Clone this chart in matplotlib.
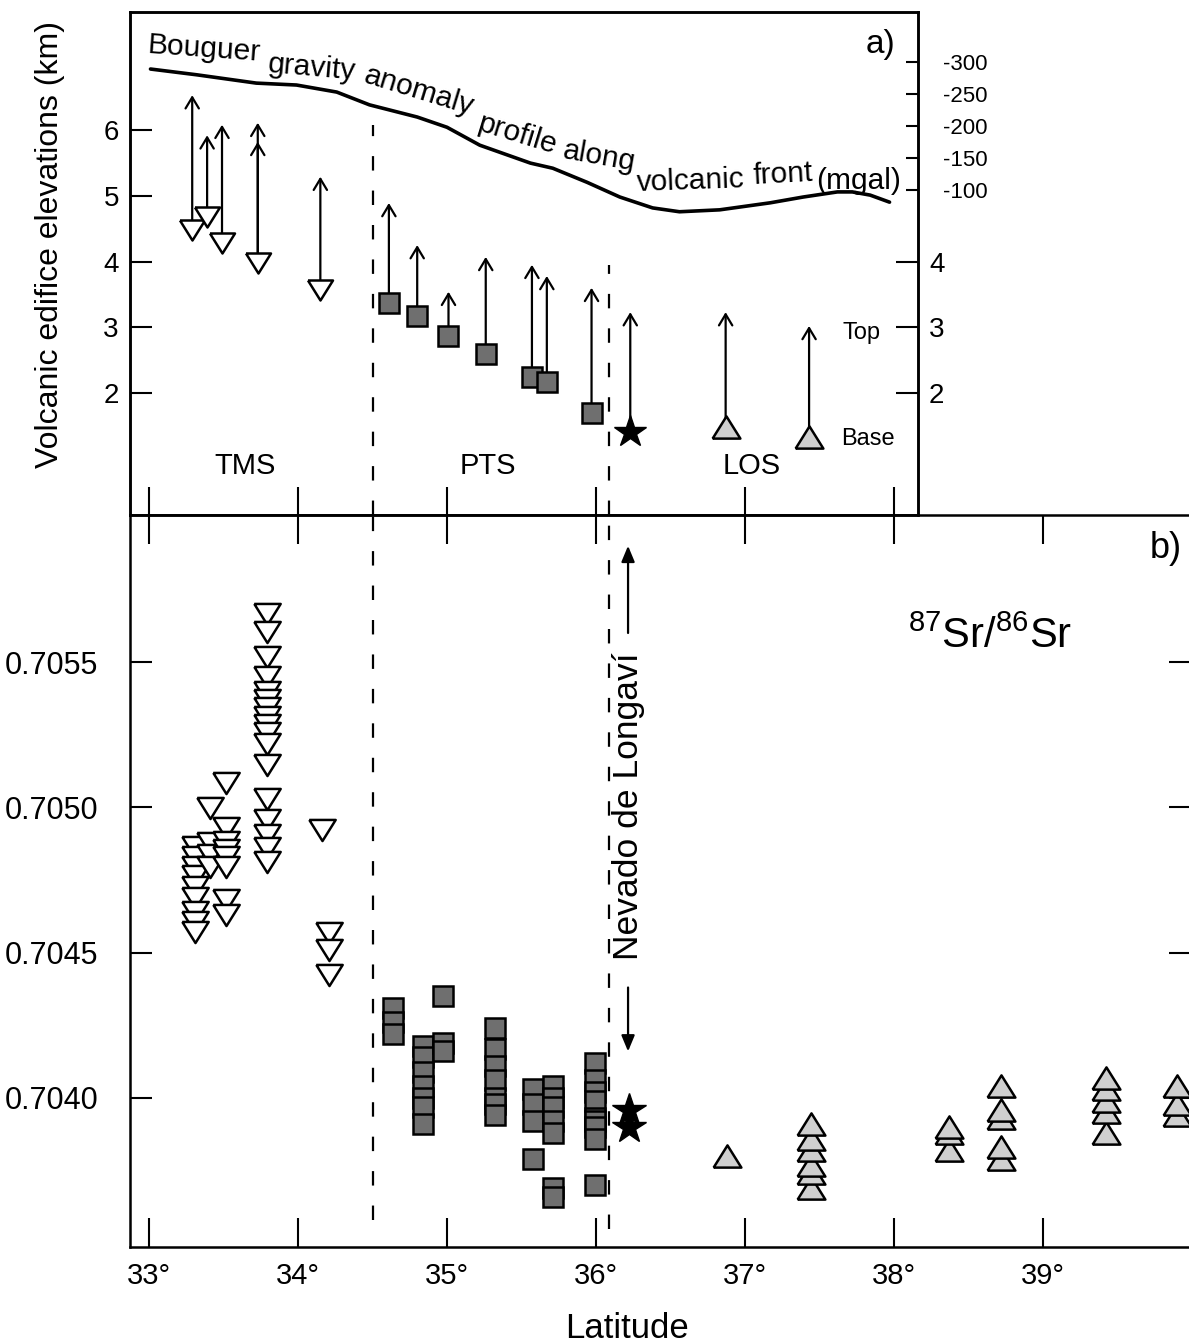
import matplotlib
matplotlib.use("Agg")
import matplotlib.pyplot as plt
from matplotlib.ticker import FormatStrFormatter

plt.rcParams['font.family'] = ['Liberation Sans', 'DejaVu Sans']
plt.rcParams['mathtext.fontset'] = 'custom'
plt.rcParams['mathtext.rm'] = 'Liberation Sans'
plt.rcParams['axes.unicode_minus'] = False

# ---- panel a: edifice base / top elevations (km) ----
tms_lat = [33.29, 33.39, 33.49, 33.73, 34.15]
tms_base = [4.48, 4.68, 4.28, 3.98, 3.57]
tms_top = [6.53, 5.92, 6.08, 6.11, 5.29]
tms_second_head = [(33.73, 5.82)]

pts_lat = [34.61, 34.80, 35.01, 35.26, 35.57, 35.67, 35.97]
pts_base = [3.37, 3.17, 2.87, 2.59, 2.24, 2.17, 1.70]
pts_top = [4.89, 4.25, 3.54, 4.07, 3.95, 3.78, 3.60]

nl_lat = [36.23]
nl_base = [1.41]
nl_top = [3.23]

los_lat = [36.87, 37.43]
los_base = [1.48, 1.33]
los_top = [3.23, 3.02]

# Bouguer gravity anomaly along the volcanic front (mgal)
grav_lat = [33.01, 33.32, 33.72, 33.99, 34.26, 34.48, 34.80, 35.00, 35.22, 35.56,
            35.71, 35.94, 36.16, 36.38, 36.56, 36.83, 37.17, 37.39, 37.62, 37.72,
            37.84, 37.97]
grav_mgal = [-289, -280, -267, -264, -253, -233, -214, -198, -170, -142,
             -134, -112, -89, -72, -66, -69, -80, -89, -97, -97,
             -92, -81]

# segment boundaries (dashed lines)
boundary_lat = [34.5, 36.09]
boundary_top_km = [6.08, 3.95]
boundary_low_sr = [0.70358, 0.70355]

# ---- panel b: 87Sr/86Sr ----
tms_sr = {
    33.31: [0.704863, 0.704829, 0.704795, 0.704764, 0.704726, 0.704688, 0.704640, 0.704605, 0.704571],
    33.41: [0.704998, 0.704877, 0.704836, 0.704795],
    33.52: [0.705084, 0.704929, 0.704881, 0.704853, 0.704829, 0.704795, 0.704681, 0.704629],
    33.79: [0.705665, 0.705603, 0.705517, 0.705448, 0.705397, 0.705369, 0.705342, 0.705311,
            0.705283, 0.705256, 0.705218, 0.705146, 0.705029, 0.704956, 0.704905, 0.704860, 0.704812],
    34.16: [0.704922],
    34.21: [0.704567, 0.704509, 0.704423],
}
pts_sr = {
    34.64: [0.70431, 0.70426, 0.70422],
    34.84: [0.70418, 0.70414, 0.70409, 0.70404, 0.70400, 0.70397, 0.70391],
    34.97: [0.70435, 0.70419, 0.70416],
    35.32: [0.70424, 0.70417, 0.70411, 0.70406, 0.70400, 0.70398, 0.70394],
    35.58: [0.70403, 0.70398, 0.70392, 0.70379],
    35.71: [0.70404, 0.70400, 0.70397, 0.70392, 0.70388, 0.70369, 0.70366],
    35.99: [0.70412, 0.70406, 0.70402, 0.70399, 0.70393, 0.70392, 0.70390, 0.70386, 0.70370],
}
nl_sr = {36.22: [0.70396, 0.70390]}
los_sr = {
    36.88: [0.70380],
    37.44: [0.70369, 0.70374, 0.70377, 0.70382, 0.70386, 0.70391],
    38.37: [0.70382, 0.70388, 0.70390],
    38.72: [0.70379, 0.70383, 0.70393, 0.70396, 0.70404],
    39.42: [0.70388, 0.70395, 0.70399, 0.70403, 0.70407],
    39.90: [0.70394, 0.70398, 0.70404],
}

lat_ticks = [33, 34, 35, 36, 37, 38, 39]
lat_labels = ['33°', '34°', '35°', '36°', '37°', '38°', '39°']
km_ticks = [2, 3, 4, 5, 6]
km_ticks_right = [2, 3, 4]
mgal_ticks = [-300, -250, -200, -150, -100]
sr_ticks = [0.7040, 0.7045, 0.7050, 0.7055]

gravity_words = [
    ('Bouguer', 32.987, 7.17, -4),
    ('gravity', 33.792, 6.88, -5),
    ('anomaly', 34.436, 6.72, -17),
    ('profile', 35.195, 6.00, -17),
    ('along', 35.772, 5.58, -10),
    ('volcanic', 36.275, 5.08, 2),
    ('front', 37.060, 5.18, 3),
    ('(mgal)', 37.480, 5.10, 0),
]

# ---------------------------------------------------------------
W, H = 1189, 1344
fig = plt.figure(figsize=(W / 100, H / 100), dpi=100)
ax = fig.add_axes([130 / W, 1 - 515 / H, (918 - 130) / W, (515 - 12) / H])
axb = fig.add_axes([130 / W, 1 - 1247 / H, (1191 - 130) / W, (1247 - 515) / H])

down_tri = [(-1, 0.8), (1, 0.8), (0, -0.8), (-1, 0.8)]
up_tri = [(-1, -0.8), (1, -0.8), (0, 0.8), (-1, -0.8)]
sq_color = '#6f6f6f'
los_color = '#cfcfcf'


def arrow(a, x, y0, y1, style='->,head_length=0.5,head_width=0.3'):
    a.annotate('', xy=(x, y1), xytext=(x, y0),
               arrowprops=dict(arrowstyle=style, lw=1.6, color='black',
                               shrinkA=0, shrinkB=0, mutation_scale=16))


# ---- panel a ----
ax2 = ax.twinx()
ax2.plot(grav_lat, grav_mgal, color='black', lw=2.6, solid_capstyle='round')
ax2.set_ylim(407.8, -378.1)
ax2.set_yticks(mgal_ticks)
ax2.tick_params(axis='y', direction='in', length=9, width=1.5, labelsize=16, pad=18)
for s in ax2.spines.values():
    s.set_linewidth(1.8)

for x, b, t in zip(tms_lat, tms_base, tms_top):
    arrow(ax, x, b, t)
for x, t in tms_second_head:
    arrow(ax, x, 4.0, t)
for x, b, t in zip(pts_lat, pts_base, pts_top):
    arrow(ax, x, b, t)
for x, b, t in zip(nl_lat, nl_base, nl_top):
    arrow(ax, x, b, t)
for x, b, t in zip(los_lat, los_base, los_top):
    arrow(ax, x, b, t)

ax.plot(tms_lat, tms_base, ls='none', marker=down_tri, ms=18, mfc='white',
        mec='black', mew=1.8, zorder=5)
ax.plot(pts_lat, pts_base, ls='none', marker='s', ms=15, mfc=sq_color,
        mec='black', mew=1.8, zorder=5)
ax.plot(nl_lat, nl_base, ls='none', marker='*', ms=24, mfc='black',
        mec='black', zorder=5)
ax.plot(los_lat, los_base, ls='none', marker=up_tri, ms=20, mfc=los_color,
        mec='black', mew=1.8, zorder=5)

ax.vlines(boundary_lat, [0.1445, 0.1445], boundary_top_km, colors='black',
          lw=1.6, linestyles=(0, (6.5, 9)))

ax.set_xlim(32.8725, 38.161)
ax.set_ylim(0.1445, 7.795)
ax.set_xticks(lat_ticks[:6])
ax.tick_params(axis='x', direction='in', length=20, width=1.5, labelbottom=False)
ax.set_yticks(km_ticks)
ax.tick_params(axis='y', direction='in', length=16, width=1.5, labelsize=20, pad=8)
for s in ax.spines.values():
    s.set_linewidth(1.8)

axr = ax.secondary_yaxis('right')
axr.set_yticks(km_ticks_right)
axr.tick_params(axis='y', direction='in', length=16, width=1.5, labelsize=20, pad=8)

for word, x, y, rot in gravity_words:
    ax.text(x, y, word, fontsize=21.5, rotation=rot, rotation_mode='anchor',
            ha='left', va='baseline')

ax.text(33.644, 0.89, 'TMS', fontsize=21, ha='center', va='center')
ax.text(35.275, 0.89, 'PTS', fontsize=21, ha='center', va='center')
ax.text(37.047, 0.89, 'LOS', fontsize=21, ha='center', va='center')
ax.text(37.78, 2.91, 'Top', fontsize=17, ha='center', va='center')
ax.text(37.826, 1.30, 'Base', fontsize=17, ha='center', va='center')
fig.text(895 / W, 1 - 45 / H, 'a)', fontsize=24, ha='right', va='center')
fig.text(50 / W, 1 - 245 / H, 'Volcanic edifice elevations (km)', fontsize=23,
         rotation=90, ha='center', va='center')

# ---- panel b ----
for x, vals in tms_sr.items():
    axb.plot([x] * len(vals), vals, ls='none', marker=down_tri, ms=19,
             mfc='white', mec='black', mew=1.8, zorder=4)
for x, vals in pts_sr.items():
    axb.plot([x] * len(vals), vals, ls='none', marker='s', ms=14,
             mfc=sq_color, mec='black', mew=1.8, zorder=4)
for x, vals in nl_sr.items():
    axb.plot([x] * len(vals), vals, ls='none', marker='*', ms=25,
             mfc='black', mec='black', zorder=4)
for x, vals in los_sr.items():
    axb.plot([x] * len(vals), vals, ls='none', marker=up_tri, ms=20,
             mfc=los_color, mec='black', mew=1.8, zorder=4)

axb.vlines(boundary_lat, boundary_low_sr, [0.706006, 0.706006], colors='black',
           lw=1.6, linestyles=(0, (6.5, 9)))

arrow(axb, 36.215, 0.70560, 0.70590, style='-|>,head_length=0.6,head_width=0.25')
arrow(axb, 36.215, 0.70438, 0.70416, style='-|>,head_length=0.6,head_width=0.25')
axb.text(36.215, 0.705005, 'Nevado de Longaví', fontsize=25.5, rotation=90,
         ha='center', va='center')

axb.set_xlim(32.8725, 39.993)
axb.set_ylim(0.703487, 0.706006)
axb.set_xticks(lat_ticks)
axb.set_xticklabels(lat_labels)
axb.tick_params(axis='x', direction='in', top=True, length=21, width=1.5,
                labelsize=21, pad=11)
axb.set_yticks(sr_ticks)
axb.yaxis.set_major_formatter(FormatStrFormatter('%.4f'))
axb.tick_params(axis='y', direction='in', right=True, length=16, width=1.5,
                labelsize=22, pad=23)
for s in axb.spines.values():
    s.set_linewidth(1.8)

fig.text(990 / W, 1 - 637 / H, r'$\mathregular{^{87}Sr/^{86}Sr}$', fontsize=30,
         ha='center', va='center')
fig.text(1182 / W, 1 - 548 / H, 'b)', fontsize=26, ha='right', va='center')
fig.text(627 / W, 1 - 1328 / H, 'Latitude', fontsize=25, ha='center', va='center')

fig.savefig('out.png', dpi=100)
